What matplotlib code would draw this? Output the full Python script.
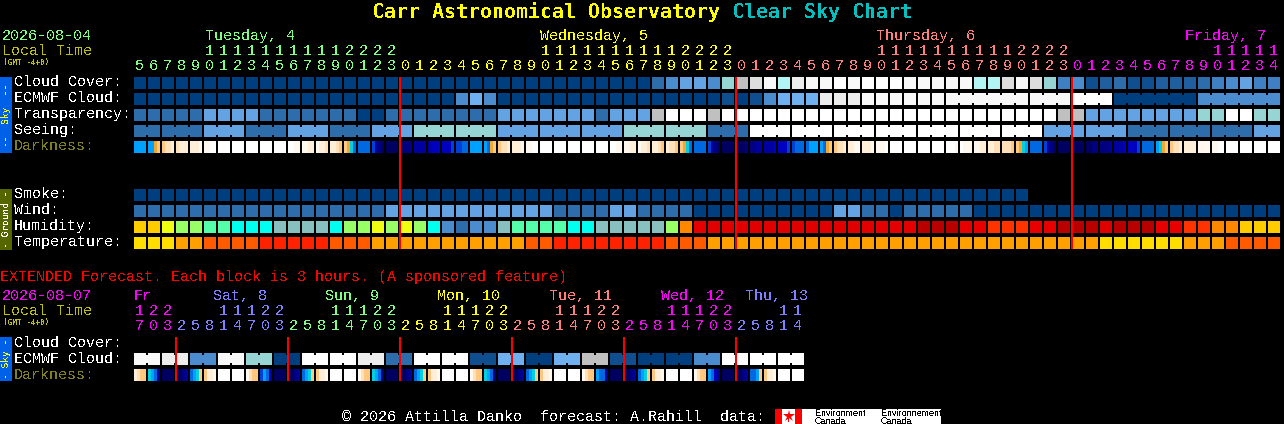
import matplotlib
matplotlib.use('Agg')
import matplotlib.pyplot as plt
import numpy as np

plt.rcParams['text.antialiased'] = False
plt.rcParams['text.hinting'] = 'native'

# shades of the sky scale, darkest first
sky_colors = ['#003f7f', '#0f4f8f', '#1f5f9f', '#2d6dab', '#3f80c4', '#4b8cce', '#63a3e3', '#6fb0f0',
              '#97d5d5', '#b3f5f5', '#c0c0c0', '#dddddd', '#ededed', '#f8f8f8', '#ffffff']
dark_colors = {'w': '#ffffff', 'y': '#fff8ee', 'p': '#ffeed8', 'c': '#ffe0b8', 'o': '#ffc880', 'g': '#f0a830',
               't': '#00d0e0', 'l': '#00a0ff', 'm': '#0068e0', 'b': '#0040d8', 'B': '#0000c0', 'n': '#0000a0',
               'N': '#000080', 'k': '#000060'}

main_hours = [5, 6, 7, 8, 9, 10, 11, 12, 13, 14, 15, 16, 17, 18, 19, 20, 21, 22, 23,
              0, 1, 2, 3, 4, 5, 6, 7, 8, 9, 10, 11, 12, 13, 14, 15, 16, 17, 18, 19, 20, 21, 22, 23,
              0, 1, 2, 3, 4, 5, 6, 7, 8, 9, 10, 11, 12, 13, 14, 15, 16, 17, 18, 19, 20, 21, 22, 23,
              0, 1, 2, 3, 4, 5, 6, 7, 8, 9, 10, 11, 12, 13, 14]
ext_hours = [17, 20, 23, 2, 5, 8, 11, 14, 17, 20, 23, 2, 5, 8, 11, 14, 17, 20, 23, 2, 5, 8, 11, 14,
             17, 20, 23, 2, 5, 8, 11, 14, 17, 20, 23, 2, 5, 8, 11, 14, 17, 20, 23, 2, 5, 8, 11, 14]

cloud = [0, 0, 0, 0, 0, 0, 0, 0, 0, 0, 0, 0, 0, 0, 0, 0, 0, 0, 0, 0, 0, 0, 0, 0, 0, 0, 0, 0, 0, 0, 0, 0, 0, 0, 0, 0, 0,
         3, 5, 6, 6, 5, 8, 10, 11, 13, 9, 12, 13, 13, 14, 13, 14, 14, 14, 13, 13, 13, 13, 13, 9, 9, 11, 13, 11, 8,
         4, 5, 1, 2, 3, 1, 1, 2, 2, 2, 3, 4, 5, 6, 4, 4]
ecmwf = [0, 0, 0, 0, 0, 0, 0, 0, 0, 0, 0, 0, 0, 0, 0, 0, 0, 0, 0, 0, 0, 0, 0, 5, 7, 5,
         0, 0, 0, 0, 0, 0, 0, 0, 0, 0, 0, 0, 0, 0, 0, 0, 1, 0, 1, 5, 7, 7, 7, 12, 12, 12,
         13, 13, 13, 13, 13, 13, 13, 13, 13, 13, 13, 13, 13, 13, 13, 14, 14, 14,
         0, 0, 0, 0, 0, 0, 5, 5, 5, 5, 5, 5]
ecmwf_groups = [1] * 58 + [6, 3, 3, 6, 6]
transparency = [3, 3, 3, 3, 3, 6, 6, 6, 6, 3, 3, 3, 3, 3, 3, 3, 0, 0, 3, 3, 3, 3, 3, 3, 3, 3,
                6, 6, 6, 6, 6, 6, 6, 3, 6, 6, 6, 10, 14, 14, 14, 10,
                14, 14, 14, 14, 14, 14, 14, 14, 14, 14, 14, 14, 14, 14, 14, 14, 14, 14, 14, 14, 14, 14, 14, 14,
                10, 10, 6, 6, 6, 6, 6, 6, 6, 6, 8, 8, 14, 14, 8, 8]
seeing_groups = [2, 3, 3, 3, 3, 3, 3, 3, 3, 3, 3, 3, 3, 3, 3, 3, 3, 3, 3, 3, 3, 3, 3, 3, 3, 3, 3, 2]
seeing = [3, 3, 6, 3, 6, 3, 6, 8, 8, 6, 6, 6, 8, 8, 3, 14, 14, 14, 14, 14, 14, 14, 6, 6, 3, 3, 3, 6]
darkness = ['llll', 'llgo', 'occp', 'cppp', 'pppy', 'yyww', 'wwww', 'wwww', 'wwww', 'wwww', 'wwww', 'wwyy',
            'yypp', 'yppc', 'ppco', 'ogtm', 'mmmm', 'bnNk', 'kkkk', 'kNNN', 'nnnn', 'nBBB', 'BBBb', 'bbmm',
            'llll', 'lmgo', 'occp', 'pppy', 'yyww', 'wwww', 'wwww', 'wwww', 'wwww', 'wwww', 'wwyy', 'yypp',
            'yppc', 'ppco', 'pcco', 'ogtm', 'mmmm', 'bnNk', 'kkkk', 'kkkN', 'NNnn', 'nnnB', 'BBBb', 'bmmm',
            'mlll', 'lmgo', 'occp', 'ppyy', 'pppy', 'yyyw', 'wwww', 'wwww', 'wwww', 'wwww', 'wwwy', 'wyyy',
            'yypp', 'ppcc', 'ccco', 'ogtl', 'mmmm', 'bnNk', 'kkkk', 'kkkk', 'kkNN', 'NNNn', 'nnnB', 'BBBb',
            'mmmm', 'ltgo', 'occp', 'pppp', 'yyyy', 'yyww', 'wwww', 'wwww', 'wwww', 'wwww']

smoke = [0, 0, 0, 0, 0, 0, 0, 0, 0, 0, 0, 0, 0, 0, 0, 0, 0, 0, 0, 0, 0, 0, 0, 0, 0, 0, 0, 0, 0, 0, 0, 0,
         0, 0, 0, 0, 0, 0, 0, 0, 0, 0, 0, 0, 0, 0, 0, 0, 0, 0, 0, 0, 0, 0, 0, 0, 0, 0, 0, 0, 0, 0, 0, 0]
wind = [3, 3, 3, 3, 3, 3, 3, 3, 3, 3, 3, 3, 3, 3, 3, 3, 3, 3, 6, 6, 6, 6, 6, 6, 6, 6, 6, 6, 6, 6,
        3, 3, 3, 3, 6, 6, 3, 3, 3, 3, 0, 0, 0, 0, 0, 0, 0, 0, 0, 0, 6, 6, 3, 3, 0, 3, 3, 3, 3, 3,
        0, 0, 0, 0, 0, 0, 0, 0, 0, 0, 0, 0, 0, 0, 0, 0, 0, 0, 0, 0, 0, 0]
humidity = ['#ffcc00', '#ffcc00', '#eeff11', '#99ff66', '#99ff66', '#55ffaa', '#55ffaa', '#00ffee', '#00ffee', '#00ffee',
            '#88c0c0', '#88c0c0', '#88c0c0', '#88c0c0', '#00ffee', '#99ff66', '#99ff66', '#eeff11', '#99ff66', '#eeff11',
            '#99ff66', '#00ffee', '#4b8cce', '#2d6dab', '#4b8cce', '#4b8cce', '#88c0c0', '#55ffaa', '#55ffaa', '#55ffaa',
            '#55ffaa', '#00ffee', '#00ffee', '#88c0c0', '#88c0c0', '#88c0c0', '#88c0c0', '#88c0c0', '#99ff66', '#ff8800',
            '#e80000', '#e00000', '#e00000', '#e00000', '#e00000', '#e00000', '#e00000', '#e00000', '#e00000', '#e00000',
            '#e00000', '#e00000', '#e40000', '#e40000', '#e40000', '#e40000', '#b80000', '#b80000', '#b80000', '#e80000',
            '#e80000', '#ff3300', '#ff3300', '#ff3300', '#e80000', '#e80000', '#b80000', '#b80000', '#b80000', '#e00000',
            '#b80000', '#b80000', '#b80000', '#e80000', '#e80000', '#ff3300', '#ff3300', '#ff8800', '#ff8800', '#ffcc00',
            '#ffcc00', '#ffcc00']
temperature = ['#ffdd00', '#ffdd00', '#ffdd00', '#ffa000', '#ffa000', '#ff5a00', '#ff5a00', '#ff5a00', '#ff5a00', '#ff2200',
               '#ff2200', '#ff2200', '#ff2200', '#ff2200', '#ff5a00', '#ff5a00', '#ff5a00', '#ffa000', '#ffa000', '#ffa000',
               '#ffa000', '#ffa000', '#ffa000', '#ffa000', '#ffa000', '#ffa000', '#ffa000', '#ffa000', '#ff5a00', '#ff5a00',
               '#ff2200', '#ff2200', '#ff2200', '#ff2200', '#ff2200', '#ff2200', '#ff2200', '#ff2200', '#ff5a00', '#ff5a00',
               '#ff5a00', '#ffa000', '#ffa000', '#ffa000', '#ffa000', '#ffa000', '#ffa000', '#ffa000', '#ffa000', '#ffa000',
               '#ffa000', '#ffa000', '#ffa000', '#ffa000', '#ffa000', '#ffa000', '#ffa000', '#ffa000', '#ffa000', '#ffa000',
               '#ffa000', '#ffa000', '#ffa000', '#ffa000', '#ffa000', '#ffa000', '#ffa000', '#ffa000', '#ffa000', '#ffdd00',
               '#ffdd00', '#ffdd00', '#ffdd00', '#ffdd00', '#ffdd00', '#ffa000', '#ffa000', '#ffa000', '#ff5a00', '#ff5a00',
               '#ff5a00', '#ff5a00']

ext_ecmwf = [13, 12, 5, 13, 8, 0, 14, 14, 12, 3, 14, 14, 1, 7, 0, 7, 10, 1, 0, 0, 5, 14, 14, 14]
ext_darkness = ['pcoo', 'tlmn', 'kkkk', 'kkNn', 'mlto', 'oppy', 'wwww', 'wwww', 'ycoo', 'blmn', 'kkkk', 'kkNn',
                'mlto', 'oppy', 'wwww', 'wwww', 'ycoo', 'tlmN', 'kkkk', 'kkNn', 'mlto', 'oppy', 'wwww', 'wwww',
                'ycoo', 'tlmN', 'kkkk', 'kkNn', 'mlto', 'oppy', 'wwww', 'wwww', 'ycoo', 'lmmn', 'kkkk', 'kkNn',
                'mlto', 'oppy', 'wwww', 'wwww', 'ycoo', 'lmBN', 'kkkk', 'kkNn', 'mmlo', 'oppy', 'wwww', 'wwww']

# (label, first column, colour)
main_days = [('Tuesday, 4', 0, '#7fff7f'), ('Wednesday, 5', 19, '#ffff00'), ('Thursday, 6', 43, '#ff7f7f'), ('Friday, 7', 67, '#ff00ff')]
main_day_x = [205, 540, 876, 1185]
ext_days = [('Fr', 0, '#ff00ff'), ('Sat, 8', 3, '#7f7fff'), ('Sun, 9', 11, '#7fff7f'), ('Mon, 10', 19, '#ffff00'),
            ('Tue, 11', 27, '#ff7f7f'), ('Wed, 12', 35, '#ff00ff'), ('Thu, 13', 43, '#7f7fff')]
ext_day_x = [134, 213, 325, 437, 549, 661, 745]

X0 = 134
PITCH = 14
CELL = 12
MONO = 'Liberation Mono'
BOLD_MONO = 'DejaVu Sans Mono'
PX = 72 / 100


def cell_x(i):
    return X0 + PITCH * np.asarray(i)


def draw_cells(ax, top, colors, groups=None):
    xs = cell_x(np.arange(len(colors)))
    ax.bar(xs, CELL, CELL, bottom=top, color=colors, align='edge', linewidth=0, antialiased=False, zorder=2)
    if groups is None:
        return
    start = 0
    for g in groups:
        for i in range(start, start + g - 1):
            ax.bar(xs[i] + CELL, 8, PITCH - CELL, bottom=top + 2, color=colors[i], align='edge',
                   linewidth=0, antialiased=False, zorder=2)
        start += g


def draw_darkness(ax, top, values):
    step = CELL / 4
    for i, cell in enumerate(values):
        for k, code in enumerate(cell):
            ax.bar(cell_x(i) + k * step, CELL, step, bottom=top, color=dark_colors[code], align='edge',
                   linewidth=0, antialiased=False, zorder=2)


def txt(ax, x, y, s, color='white', size=15, **kw):
    kw.setdefault('family', MONO)
    ax.text(x, y, s, color=color, fontsize=size * PX, va='baseline', ha=kw.pop('ha', 'left'), zorder=4, **kw)


def draw_hours(ax, hours, days, day_x, y_day, y_tens, y_units):
    starts = [d[1] for d in days]
    for (label, _, color), x in zip(days, day_x):
        txt(ax, x, y_day, label, color)
    for i, h in enumerate(hours):
        color = days[np.searchsorted(starts, i, side='right') - 1][2]
        if h >= 10:
            txt(ax, cell_x(i) + 1, y_tens, str(h // 10), color)
        txt(ax, cell_x(i) + 1, y_units, str(h % 10), color)


def side_box(ax, y0, y1, color, text, text_color):
    ax.bar(0, y1 - y0, CELL, bottom=y0, color=color, align='edge', linewidth=0, antialiased=False)
    ax.text(6, (y0 + y1) / 2, text, color=text_color, family=BOLD_MONO, fontsize=9.6 * PX, rotation=90,
            ha='center', va='center')


def sky(values):
    return [sky_colors[v] for v in values]


fig = plt.figure(figsize=(12.84, 4.24), dpi=100, facecolor='black')
ax = fig.add_axes([0, 0, 1, 1])
ax.set_xlim(0, 1284)
ax.set_ylim(424, 0)
ax.axis('off')

# title
txt(ax, 372, 18, 'Carr Astronomical Observatory', '#ffff00', 19.93, family=BOLD_MONO, fontweight='bold')
txt(ax, 732, 18, 'Clear Sky Chart', '#00c0c0', 19.93, family=BOLD_MONO, fontweight='bold')

# main header
txt(ax, 2, 40, '2026-08-04', '#7fff7f')
txt(ax, 2, 55, 'Local Time', '#c0c000')
txt(ax, 3, 65, '(GMT -4+0)', '#c0c000', 7.8, family=BOLD_MONO)
draw_hours(ax, main_hours, main_days, main_day_x, 40, 55, 70)

# sky rows
sky_tops = [77, 93, 109, 125, 141]
for top, label, color in zip(sky_tops, ['Cloud Cover:', 'ECMWF Cloud:', 'Transparency:', 'Seeing:', 'Darkness:'],
                             ['white', 'white', 'white', 'white', '#808020']):
    txt(ax, 14, top + 9, label, color)
draw_cells(ax, sky_tops[0], sky(cloud))
draw_cells(ax, sky_tops[1], sky(ecmwf), ecmwf_groups)
draw_cells(ax, sky_tops[2], sky(transparency))
draw_cells(ax, sky_tops[3], sky(np.repeat(seeing, seeing_groups)), seeing_groups)
draw_darkness(ax, sky_tops[4], darkness)
side_box(ax, 77, 153, '#0060e8', '--  Sky  --', '#ffff00')

# ground rows
ground_tops = [189, 205, 221, 237]
for top, label in zip(ground_tops, ['Smoke:', 'Wind:', 'Humidity:', 'Temperature:']):
    txt(ax, 14, top + 9, label)
draw_cells(ax, ground_tops[0], sky(smoke))
draw_cells(ax, ground_tops[1], sky(wind))
draw_cells(ax, ground_tops[2], humidity)
draw_cells(ax, ground_tops[3], temperature)
side_box(ax, 189, 250, '#556600', '- Ground -', 'white')

# midnight lines
midnights = [i for i, h in enumerate(main_hours) if h == 0]
ax.bar(cell_x(midnights) - 1, 172, 2, bottom=77, color='#ff0000', align='edge', linewidth=0, antialiased=False, zorder=3)

# extended forecast
txt(ax, 0, 281, 'EXTENDED Forecast. Each block is 3 hours. (A sponsored feature)', '#ff0000')
txt(ax, 2, 300, '2026-08-07', '#ff00ff')
txt(ax, 2, 315, 'Local Time', '#c0c000')
txt(ax, 3, 325, '(GMT -4+0)', '#c0c000', 7.8, family=BOLD_MONO)
draw_hours(ax, ext_hours, ext_days, ext_day_x, 300, 315, 330)

for top, label, color in zip([337, 353, 369], ['Cloud Cover:', 'ECMWF Cloud:', 'Darkness:'], ['white', 'white', '#808020']):
    txt(ax, 14, top + 10, label, color)
ext_groups = [2] * 24
draw_cells(ax, 353, sky(np.repeat(ext_ecmwf, ext_groups)), ext_groups)
draw_darkness(ax, 369, ext_darkness)
side_box(ax, 337, 381, '#0060e8', '- Sky -', '#ffff00')
ext_midnights = [i for i in range(1, len(ext_hours)) if ext_hours[i] < ext_hours[i - 1]]
ax.bar(cell_x(ext_midnights) - 1, 44, 2, bottom=337, color='#ff0000', align='edge', linewidth=0, antialiased=False, zorder=3)

# footer
txt(ax, 342, 421, '\u00a9 2026 Attilla Danko  forecast: A.Rahill  data:')
ax.bar(775, 15, 166, bottom=409, color='white', align='edge', linewidth=0, antialiased=False)
ax.bar([775, 795], 15, 7, bottom=409, color='#ff0000', align='edge', linewidth=0, antialiased=False, zorder=2)
ax.plot(788.5, 415.5, marker='*', markersize=9, color='#ff0000', markeredgewidth=0, zorder=3)
ax.bar(788, 4, 1, bottom=418, color='#ff0000', align='edge', linewidth=0, antialiased=False, zorder=3)
for x, name in zip([815, 881], ['Environment', 'Environnement']):
    ax.text(x, 416, name, color='black', family='Liberation Sans', fontsize=9 * PX, va='baseline', zorder=3, clip_on=True)
    ax.text(x, 424, 'Canada', color='black', family='Liberation Sans', fontsize=9 * PX, va='baseline', zorder=3, clip_on=True)

fig.savefig('out.png', dpi=100, facecolor='black')
